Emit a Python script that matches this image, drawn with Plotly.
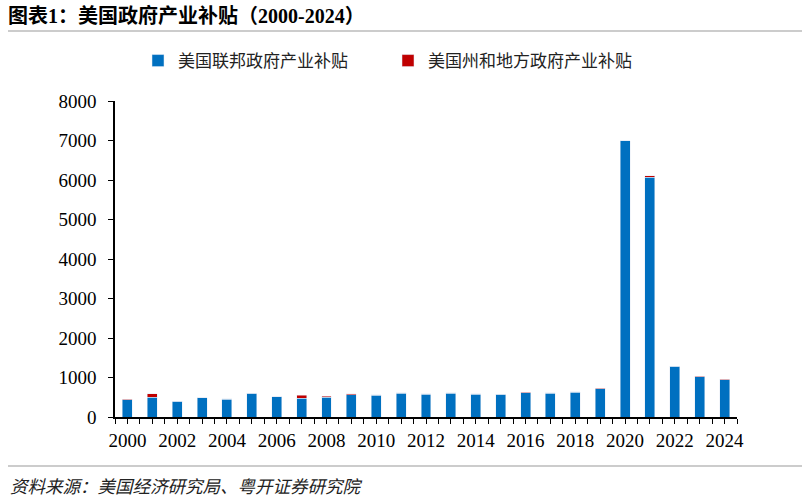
import numpy as np
import plotly.graph_objects as go

years = list(range(2000, 2025))
federal = [440, 505, 400, 487, 453, 600, 513, 470, 505, 564, 547, 607, 581,
           607, 581, 572, 615, 607, 630, 720, 6990, 6070, 1280, 1025, 940]
state_local = [5, 85, 5, 3, 3, 7, 5, 75, 20, 25, 15, 3, 3,
               3, 3, 4, 8, 3, 5, 8, 10, 40, 10, 10, 10]
y_ticks = list(range(0, 8001, 1000))

serif = "Liberation Serif, Times New Roman, serif"
cjk = "Noto Sans CJK SC, sans-serif"

fig = go.Figure()
fig.add_trace(go.Bar(x=years, y=federal, name="美国联邦政府产业补贴",
                     marker_color="#0070C0", width=0.4))
fig.add_trace(go.Bar(x=years, y=state_local, name="美国州和地方政府产业补贴",
                     marker_color="#C00000", width=0.4))

# ticks every half year, labels on even years
tick_pos = np.arange(1999.5, 2024.51, 0.5)
tick_txt = [str(int(t)) if t == int(t) and int(t) % 2 == 0 else "" for t in tick_pos]

title_txt = ("<b>图表<span style='font-family:Liberation Serif'>1</span>：美国政府产业补贴（"
             "<span style='font-family:Liberation Serif'>2000-2024</span>）</b>")

fig.update_layout(
    barmode="stack",
    width=810, height=499,
    margin=dict(l=115, r=73, t=101, b=82),
    plot_bgcolor="white", paper_bgcolor="white",
    title=dict(text=title_txt,
               x=0.01, xref="container", xanchor="left",
               y=1 - 16 / 499, yref="container", yanchor="middle",
               font=dict(family=cjk, size=20, color="black")),
    legend=dict(orientation="h", x=138 / 810, xref="container", xanchor="left",
                y=1 - 61 / 499, yref="container", yanchor="middle",
                font=dict(family=cjk, size=17, color="#222"),
                entrywidth=205, entrywidthmode="pixels",
                itemwidth=30, traceorder="normal"),
    xaxis=dict(range=[1999.5, 2024.5], tickmode="array", tickvals=tick_pos,
               ticktext=tick_txt, ticks="outside", ticklen=5, tickcolor="black",
               showline=True, linecolor="black", linewidth=1.5, showgrid=False,
               tickfont=dict(family=serif, size=19, color="black")),
    yaxis=dict(range=[0, 8000], tickvals=y_ticks, ticks="outside", ticklen=5,
               tickcolor="black", showline=True, linecolor="black", linewidth=1.5,
               showgrid=False, zeroline=False, ticklabelstandoff=8,
               tickfont=dict(family=serif, size=19, color="black")),
    showlegend=True,
)

pw, ph = 622, 316
fig.add_shape(type="line", xref="paper", yref="paper",
              x0=(8 - 115) / pw, x1=(802 - 115) / pw,
              y0=(417 - 31) / ph, y1=(417 - 31) / ph,
              line=dict(color="#999999", width=1))
fig.add_shape(type="line", xref="paper", yref="paper",
              x0=(8 - 115) / pw, x1=(802 - 115) / pw,
              y0=(417 - 466) / ph, y1=(417 - 466) / ph,
              line=dict(color="#999999", width=1))
fig.add_annotation(text="资料来源：美国经济研究局、粤开证券研究院",
                   xref="paper", yref="paper", showarrow=False,
                   x=(8 - 115) / pw, xanchor="left",
                   y=(417 - 485) / ph, yanchor="middle",
                   font=dict(family=cjk, size=17.5, color="#222", style="italic"))

fig.write_html("out.html", config={"displayModeBar": False},
               post_script="document.body.style.margin='0px';")
